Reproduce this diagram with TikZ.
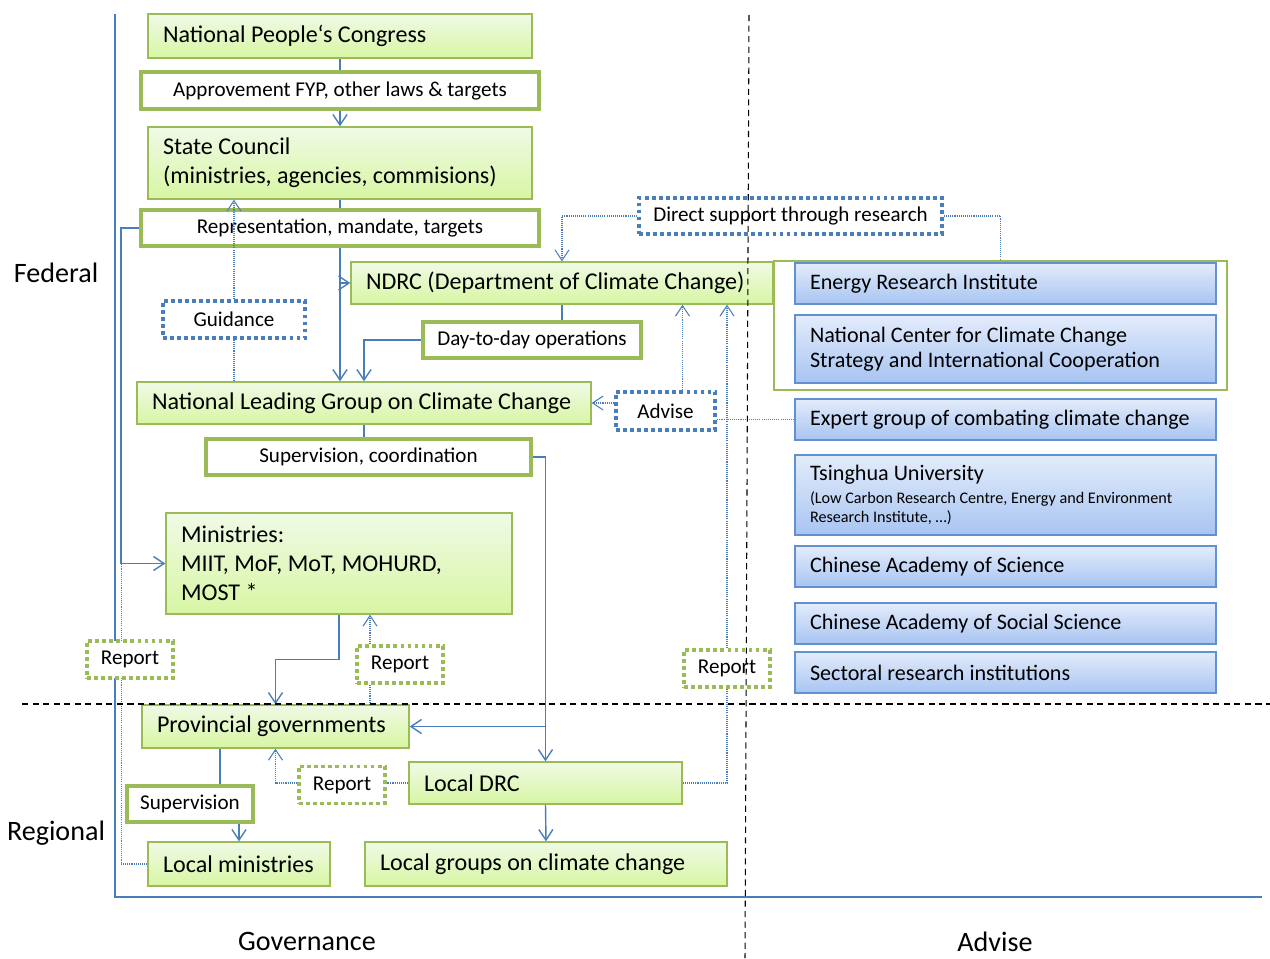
\documentclass[tikz,border=0pt]{standalone}
\usepackage{fontspec}
\setmainfont{Carlito}
\usetikzlibrary{arrows.meta}
\newlength{\px}
\setlength{\px}{0.02cm}
\definecolor{govblue}{RGB}{74,126,187}
\definecolor{govgreen}{RGB}{155,187,89}
\definecolor{gtop}{RGB}{240,250,230}
\definecolor{gbot}{RGB}{215,246,163}
\definecolor{btop}{RGB}{227,236,251}
\definecolor{bbot}{RGB}{168,196,242}
\definecolor{bline}{RGB}{98,145,210}
\tikzset{
    gbox/.style={draw=govgreen, line width=0.8pt, top color=gtop, bottom color=gbot, inner xsep=15\px, align=flush left, font=\fontsize{13.7}{16.4}\selectfont},
    bbox/.style={draw=bline, line width=0.9pt, top color=btop, bottom color=bbot, inner xsep=15\px, align=flush left, text width=391\px, minimum height=41\px, font=\fontsize{12.6}{14.2}\selectfont},
    lbox/.style={draw=govgreen, line width=2.2pt, fill=white, font=\fontsize{12}{14.2}\selectfont},
    bdot/.style={draw=govblue, line width=2.2pt, dash pattern=on 2.2pt off 1.8pt, fill=white, font=\fontsize{12}{14.2}\selectfont},
    gdot/.style={bdot, draw=govgreen, minimum width=86\px, minimum height=37\px},
    conn/.style={draw=govblue, line width=0.8pt},
    dconn/.style={conn, line width=0.6pt, dash pattern=on 0.6pt off 0.6pt},
    divline/.style={black, line width=0.6pt, dash pattern=on 3.5pt off 2.5pt},
    headtxt/.style={inner sep=0pt, font=\fontsize{16}{19}\selectfont}
}
\begin{document}
\begin{tikzpicture}[x=0.02cm, y=-0.02cm, >={Straight Barb[length=6pt,width=8pt]}]
    \useasboundingbox (0,0) rectangle (1270,958);
    \draw[govblue, line width=1.1pt] (115,14) -- (115,897) -- (1262,897);
    % research institutes frame
    \node[draw=govgreen, line width=0.8pt, minimum width=453\px, minimum height=129\px] (grp) at (1000.5,325.5) {};
    % governance bodies
    \node[gbox, text width=354\px, minimum height=44\px] (npc) at (340,36) {National People‘s Congress};
    \node[gbox, text width=354\px, minimum height=72\px] (sc) at (340,163) {State Council\\(ministries, agencies, commisions)};
    \node[gbox, text width=392\px, minimum height=42\px] (ndrc) at (562,283) {\mbox{NDRC (Department of Climate Change)}};
    \node[gbox, text width=424\px, minimum height=42\px] (nlg) at (364,403) {\mbox{National Leading Group on Climate Change}};
    \node[gbox, text width=316\px, minimum height=101\px] (min) at (339,563.5) {Ministries:\\MIIT, MoF, MoT, MOHURD,\\MOST *};
    \node[gbox, text width=237\px, minimum height=43\px] (prov) at (275.5,726.5) {Provincial governments};
    \node[gbox, text width=243\px, minimum height=42\px] (ldrc) at (545.5,783) {Local DRC};
    \node[gbox, text width=152\px, minimum height=44\px] (lmin) at (239,864) {Local ministries};
    \node[gbox, text width=332\px, minimum height=44\px] (lgrp) at (546,864) {Local groups on climate change};
    % advisory bodies
    \node[bbox] (eri) at (1005.5,283.5) {Energy Research Institute};
    \node[bbox, minimum height=68\px] (nccc) at (1005.5,349) {National Center for Climate Change\\Strategy and International Cooperation};
    \node[bbox] (exp) at (1005.5,419.5) {\mbox{Expert group of combating climate change}};
    \node[bbox, minimum height=80\px] (tsu) at (1005.5,495) {Tsinghua University\par\vspace{2.5pt}{\fontsize{9.2}{10.8}\selectfont (Low Carbon Research Centre, Energy and Environment\\Research Institute, …)\par}};
    \node[bbox] (cas) at (1005.5,566.5) {Chinese Academy of Science};
    \node[bbox] (cass) at (1005.5,623.5) {Chinese Academy of Social Science};
    \node[bbox] (sect) at (1005.5,672.5) {Sectoral research institutions};
    % labels
    \node[lbox, minimum width=398\px, minimum height=37\px] (appr) at (340,90.5) {Approvement FYP, other laws \& targets};
    \node[lbox, minimum width=398\px, minimum height=36\px] (rep) at (340,228) {Representation, mandate, targets};
    \node[lbox, minimum width=218\px, minimum height=36\px] (d2d) at (532,340) {Day-to-day operations};
    \node[lbox, minimum width=325\px, minimum height=36\px] (supc) at (368.5,457) {Supervision, coordination};
    \node[lbox, minimum width=126\px, minimum height=36\px] (sup) at (190,804) {Supervision};
    \node[bdot, minimum width=142\px, minimum height=37\px] (guid) at (234,319.5) {Guidance};
    \node[bdot, minimum width=303\px, minimum height=36\px] (dsr) at (790.5,216) {Direct support through research};
    \node[bdot, minimum width=99\px, minimum height=38\px] (adv) at (665.5,411) {Advise};
    \draw[dconn] (lmin.west) -- ++(-26,0) -- ++(0,-301);
    \node[gdot] (rep1) at (130,659.5) {Report};
    \node[gdot] (rep2) at (400,664.5) {Report};
    \node[gdot] (rep3) at (727,668.5) {Report};
    \node[gdot] (rep4) at (342,785) {Report};
    % solid connections
    \draw[conn] (npc.south) -- (appr.north);
    \draw[conn,->] (appr.south) -- (sc.north);
    \draw[conn] (sc.south) -- (rep.north);
    \draw[conn,->] (rep.south) -- (rep.south |- nlg.north);
    \draw[conn,->] (rep.south |- ndrc.west) -- (ndrc.west);
    \draw[conn,->] (rep.west) -- ++(-18,0) |- (min.west);
    \draw[conn] (ndrc.south) -- (ndrc.south |- d2d.north);
    \draw[conn,->] (d2d.west) -| (nlg.north);
    \draw[conn] (nlg.south) -- (nlg.south |- supc.north);
    \draw[conn,->] (supc.east) -| (ldrc.north);
    \draw[conn,->] (ldrc.north |- prov.east) -- (prov.east);
    \draw[conn,->] (min.south) -- ++(0,45) -| (prov.north);
    \draw[conn] ([xshift=30\px]sup.north |- prov.south) -- ([xshift=30\px]sup.north);
    \draw[conn,->] (lmin.north |- sup.south) -- (lmin.north);
    \draw[conn,->] (ldrc.south) -- (lgrp.north);
    % dotted connections
    \draw[dconn,->] (dsr.west) -| (ndrc.north);
    \draw[dconn] (dsr.east) -| (grp.north);
    \draw[dconn] (guid.south) -- (guid.south |- nlg.north);
    \draw[dconn,->] (guid.north) -- (guid.north |- sc.south);
    \draw[dconn,->] (adv.west |- nlg.east) -- (nlg.east);
    \draw[dconn,->] ([xshift=17\px]adv.north) -- ([xshift=17\px]adv.north |- ndrc.south);
    \draw[dconn] (exp.west) -- (exp.west -| adv.east);
    \draw[dconn] (ldrc.east) -| (rep3.south);
    \draw[dconn,->] (rep3.north) -- (rep3.north |- ndrc.south);
    \draw[dconn,->] ([xshift=-30\px]rep2.north) -- ([xshift=-30\px]rep2.north |- min.south);
    \draw[dconn] ([xshift=-30\px]rep2.south) -- ([xshift=-30\px]rep2.south |- prov.north);
    \draw[dconn] (ldrc.west) -- (ldrc.west -| rep4.east);
    \draw[dconn,->] (rep4.west |- ldrc.west) -| (prov.south);
    % levels
    \node[headtxt] (fed) at (56,273) {Federal};
    \node[headtxt] (reg) at (56,833) {Regional};
    \node[headtxt] (gov) at (307,941) {Governance};
    \node[headtxt] (advt) at (995,942) {Advise};
    \draw[divline] (749,15) -- (745,958);
    \draw[divline] (22,704) -- (1270,704);
\end{tikzpicture}
\end{document}
